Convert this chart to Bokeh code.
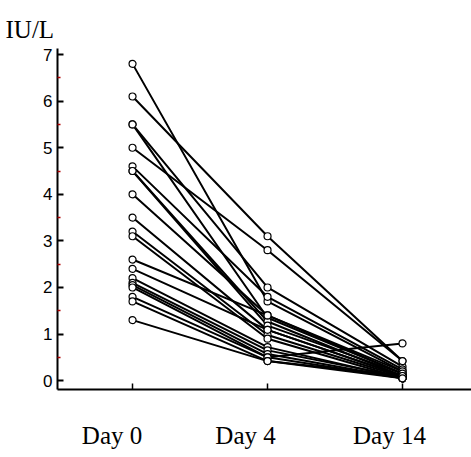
from bokeh.plotting import figure
from bokeh.models import Range1d, FixedTicker, Title, LinearAxis
from bokeh.embed import file_html
from bokeh.resources import INLINE

days = ["Day 0", "Day 4", "Day 14"]
day_pos = [0, 1, 2]
unit_label = "IU/L"

day0 = [6.8, 6.1, 5.5, 5.5, 5.0, 4.6, 4.5, 4.5, 4.0, 3.5, 3.2, 3.1, 2.6, 2.4, 2.2, 2.1, 2.05, 2.0, 1.8, 1.7, 1.3]
day4 = [1.7, 3.1, 2.0, 1.35, 2.8, 1.8, 1.27, 1.18, 1.4, 1.09, 0.98, 0.90, 1.4, 1.09, 0.72, 0.65, 0.57, 0.50, 0.50, 0.42, 0.42]
day14 = [0.2, 0.42, 0.3, 0.15, 0.42, 0.24, 0.1, 0.15, 0.2, 0.1, 0.08, 0.05, 0.15, 0.1, 0.05, 0.08, 0.05, 0.8, 0.05, 0.1, 0.05]

y_ticks = [0, 1, 2, 3, 4, 5, 6, 7]
y_minor = [0.5, 1.5, 2.5, 3.5, 4.5, 5.5, 6.5]

X0, X1 = -0.556, 2.511
Y0, Y1 = -0.19, 7.13
PX_PER_X = 135.0
LABEL_SHIFT_PX = [-20.5, -22.0, -13.0]  # label centres sit left of the ticks

p = figure(width=471, height=457, output_backend="svg", toolbar_location=None,
           x_range=Range1d(X0, X1), y_range=Range1d(Y0, Y1),
           min_border_left=57, min_border_right=0, min_border_top=48, min_border_bottom=68)
p.outline_line_color = None
p.xgrid.visible = False
p.ygrid.visible = False
p.background_fill_color = "white"

t = Title(text=unit_label, align="left", offset=-52, standoff=8, vertical_align="top",
          text_line_height=0.4,
          text_font="Liberation Serif", text_font_size="25px", text_font_style="normal",
          text_color="black")
p.add_layout(t, "above")

xs = [day_pos for _ in day0]
ys = [[a, b, c] for a, b, c in zip(day0, day4, day14)]
p.multi_line(xs=xs, ys=ys, line_color="black", line_width=2)

px = []
py = []
for a, b, c in zip(day0, day4, day14):
    px += day_pos
    py += [a, b, c]
p.scatter(px, py, size=7, fill_color="white", line_color="black", line_width=1.2)

ya = p.yaxis[0]
ya.ticker = FixedTicker(ticks=y_ticks, minor_ticks=y_minor)
ya.axis_line_width = 2
ya.axis_line_color = "black"
ya.major_tick_in = 6
ya.major_tick_out = 0
ya.major_tick_line_width = 2
ya.minor_tick_in = 3
ya.minor_tick_out = 0
ya.minor_tick_line_color = "#b00000"
ya.minor_tick_line_width = 1.5
ya.major_label_text_font = "Liberation Sans"
ya.major_label_text_font_size = "17px"
ya.major_label_text_color = "black"
ya.major_label_standoff = 5

xa = p.xaxis[0]
xa.ticker = FixedTicker(ticks=day_pos)
xa.major_label_overrides = {i: "" for i in day_pos}
xa.major_label_text_font_size = "1px"
xa.major_label_standoff = 0
xa.axis_line_width = 2
xa.axis_line_color = "black"
xa.major_tick_in = 6
xa.major_tick_out = 0
xa.major_tick_line_width = 1.5
xa.minor_tick_line_color = None

label_ticks = [d + s / PX_PER_X for d, s in zip(day_pos, LABEL_SHIFT_PX)]
la = LinearAxis(ticker=FixedTicker(ticks=label_ticks, minor_ticks=[]),
                major_label_overrides={lt: d for lt, d in zip(label_ticks, days)})
la.axis_line_color = None
la.major_tick_line_color = None
la.minor_tick_line_color = None
la.major_tick_in = 0
la.major_tick_out = 0
la.major_label_text_font = "Liberation Serif"
la.major_label_text_font_size = "25px"
la.major_label_text_color = "black"
la.major_label_standoff = 32
p.add_layout(la, "below")

open("out.html", "w").write(file_html(p, INLINE))
